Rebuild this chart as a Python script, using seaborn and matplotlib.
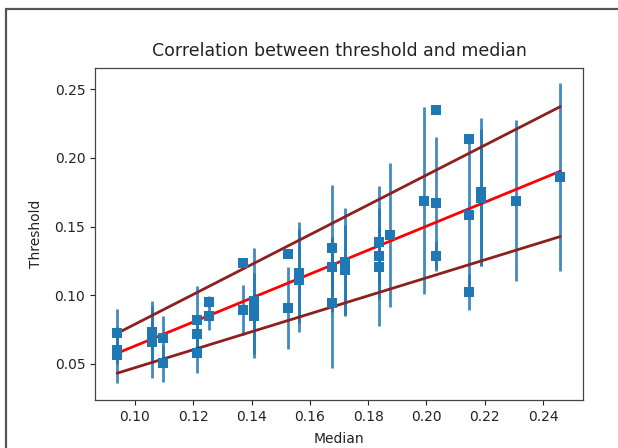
import numpy as np
import pandas as pd
import seaborn as sns
import matplotlib
matplotlib.use('Agg')
import matplotlib.pyplot as plt
from matplotlib.lines import Line2D

# Puncte masurate: mediana, prag si eroarea pragului
mediana = [0.0939, 0.0939, 0.0939,
           0.1057, 0.1057, 0.1057,
           0.1097, 0.1097,
           0.1212, 0.1212, 0.1212,
           0.1254, 0.1254,
           0.1372, 0.1372,
           0.1408, 0.1408, 0.1408,
           0.1524, 0.1524,
           0.1564, 0.1564,
           0.1677, 0.1677, 0.1677,
           0.1720, 0.1720,
           0.1838, 0.1838, 0.1838,
           0.1875,
           0.1992,
           0.2032, 0.2032, 0.2032,
           0.2146, 0.2146, 0.2146,
           0.2186, 0.2186,
           0.2306,
           0.2459]
prag = [0.0723, 0.0600, 0.0565,
        0.0735, 0.0695, 0.0660,
        0.0687, 0.0505,
        0.0820, 0.0718, 0.0582,
        0.0951, 0.0849,
        0.1232, 0.0893,
        0.0955, 0.0900, 0.0850,
        0.1298, 0.0909,
        0.1165, 0.1110,
        0.1341, 0.1208, 0.0946,
        0.1245, 0.1180,
        0.1385, 0.1283, 0.1203,
        0.1440,
        0.1688,
        0.2350, 0.1671, 0.1283,
        0.2139, 0.1586, 0.1024,
        0.1750, 0.1710,
        0.1688,
        0.1858]
eroare = [0.018, 0.010, 0.0205,
          0.022, 0.010, 0.026,
          0.016, 0.0135,
          0.0247, 0.010, 0.0145,
          0.004, 0.010,
          0.003, 0.018,
          0.0386, 0.010, 0.031,
          0.003, 0.030,
          0.037, 0.0375,
          0.046, 0.020, 0.0477,
          0.039, 0.033,
          0.041, 0.020, 0.043,
          0.0525,
          0.0682,
          0.002, 0.0477, 0.011,
          0.002, 0.055, 0.013,
          0.054, 0.050,
          0.0585,
          0.0685]

# Dreapta de regresie si limitele +/- 25%
linie_x = [0.0939, 0.2459]
linie_fit = [0.0578, 0.1902]
linie_sus = [0.0723, 0.2372]
linie_jos = [0.0433, 0.1427]

date = pd.DataFrame({"Median": mediana, "Threshold": prag, "err": eroare})
linii = pd.DataFrame({"x": linie_x, "fit": linie_fit, "sus": linie_sus, "jos": linie_jos})

sns.set_style("white")
plt.rcParams['font.family'] = ['DejaVu Sans']
plt.rcParams['text.color'] = '#222222'
plt.rcParams['axes.labelcolor'] = '#222222'
plt.rcParams['xtick.color'] = '#222222'
plt.rcParams['ytick.color'] = '#222222'

fig = plt.figure(figsize=(6.18, 4.48), dpi=100)
ax = fig.add_axes([95 / 618, 48 / 448, 488 / 618, 332 / 448])

ax.errorbar(date["Median"], date["Threshold"], yerr=date["err"], fmt='none',
            ecolor='#1f77b4', elinewidth=2, alpha=0.85, zorder=1)

sns.lineplot(data=linii, x="x", y="sus", color='#8e1f1f', linewidth=2, ax=ax, zorder=2)
sns.lineplot(data=linii, x="x", y="jos", color='#8e1f1f', linewidth=2, ax=ax, zorder=2)
sns.lineplot(data=linii, x="x", y="fit", color='red', linewidth=2, ax=ax, zorder=2)

sns.scatterplot(data=date, x="Median", y="Threshold", marker='s', s=48,
                color='#1f77b4', linewidth=0, ax=ax, zorder=3)

ax.set_xlim(0.0863, 0.2537)
ax.set_ylim(0.0238, 0.2653)
ax.set_xticks([0.10, 0.12, 0.14, 0.16, 0.18, 0.20, 0.22, 0.24])
ax.set_yticks([0.05, 0.10, 0.15, 0.20, 0.25])
ax.set_xticklabels(['0.10', '0.12', '0.14', '0.16', '0.18', '0.20', '0.22', '0.24'])
ax.set_yticklabels(['0.05', '0.10', '0.15', '0.20', '0.25'])
ax.tick_params(axis='both', which='both', direction='out', length=3.5, width=0.8,
               labelsize=10, bottom=True, left=True)
for sp in ax.spines.values():
    sp.set_color('#444444')
    sp.set_linewidth(0.9)

ax.set_xlabel('Median', fontsize=10, labelpad=6)
ax.set_ylabel('Threshold', fontsize=10, labelpad=8)
ax.set_title('Correlation between threshold and median', fontsize=12.5, pad=9)

# chenarul capturii de ecran
fig.add_artist(Line2D([6 / 618, 1.0], [1 - 9 / 448, 1 - 9 / 448], transform=fig.transFigure,
                      color='#555555', linewidth=1.6))
fig.add_artist(Line2D([6 / 618, 6 / 618], [0, 1 - 9 / 448], transform=fig.transFigure,
                      color='#555555', linewidth=1.6))

fig.savefig('out.png', dpi=100)
